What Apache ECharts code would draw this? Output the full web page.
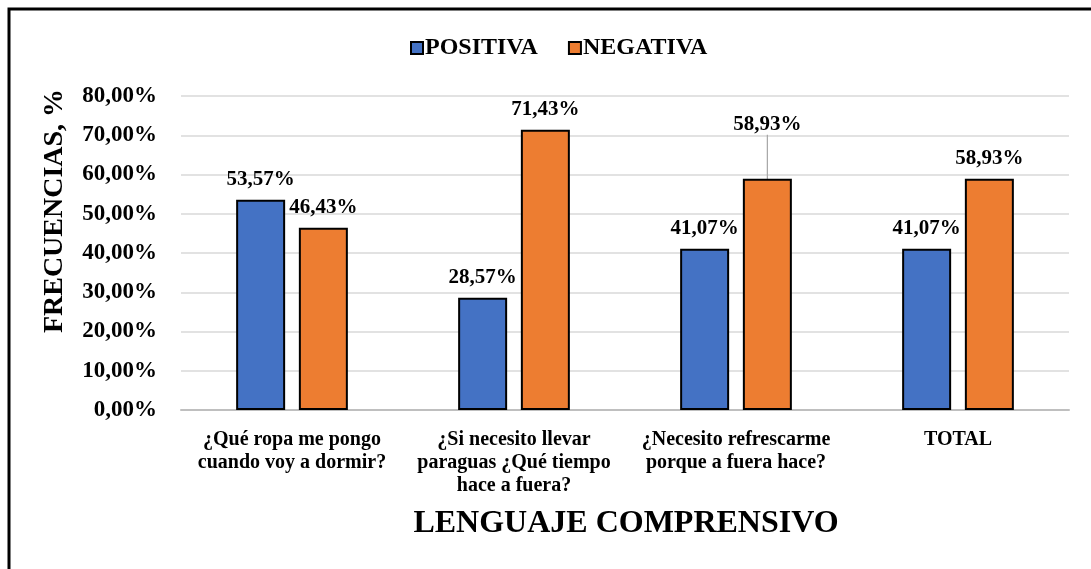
<!DOCTYPE html>
<html>
<head>
<meta charset="utf-8">
<script src="https://cdn.jsdelivr.net/npm/echarts@6/dist/echarts.min.js"></script>
<style>
  html, body { margin: 0; padding: 0; background: #fff; }
  #chart { width: 1091px; height: 569px; }
</style>
</head>
<body>
<div id="chart"></div>
<script>
// categorias del eje x
const categorias = [
  '¿Qué ropa me pongo\ncuando voy a dormir?',
  '¿Si necesito llevar\nparaguas ¿Qué tiempo\nhace a fuera?',
  '¿Necesito refrescarme\nporque a fuera hace?',
  'TOTAL'
];
// valores en %
const positiva = [53.57, 28.57, 41.07, 41.07];
const negativa = [46.43, 71.43, 58.93, 58.93];
// ticks del eje y
const ticksY = [0, 10, 20, 30, 40, 50, 60, 70, 80];

const fuente = '"Liberation Serif", "Times New Roman", serif';
const fmt = (v) => v.toFixed(2).replace('.', ',') + '%';

const chart = echarts.init(document.getElementById('chart'));

const etiqueta = {
  show: true,
  position: 'top',
  distance: 10,
  formatter: (p) => fmt(p.value),
  fontFamily: fuente,
  fontWeight: 'bold',
  fontSize: 21,
  color: '#000'
};

const options = {
  animation: false,
  textStyle: { fontFamily: fuente },
  legend: {
    top: 31,
    left: 405,
    itemWidth: 12,
    itemHeight: 12,
    itemGap: 30,
    icon: 'rect',
    textStyle: { fontFamily: fuente, fontWeight: 'bold', fontSize: 24, color: '#000', padding: [0, 0, 0, -3] },
    data: ['POSITIVA', 'NEGATIVA']
  },
  grid: { top: 96, bottom: 159, left: 181, right: 22 },
  xAxis: {
    type: 'category',
    data: categorias,
    axisTick: { show: false },
    axisLine: { lineStyle: { color: '#bfbfbf', width: 2 } },
    axisLabel: {
      margin: 18,
      interval: 0,
      fontFamily: fuente,
      fontWeight: 'bold',
      fontSize: 20,
      lineHeight: 23,
      color: '#000'
    }
  },
  yAxis: {
    type: 'value',
    min: 0,
    max: ticksY[ticksY.length - 1],
    interval: 10,
    axisLine: { show: false },
    axisTick: { show: false },
    splitLine: { lineStyle: { color: '#d9d9d9', width: 1.5 } },
    axisLabel: {
      margin: 24,
      fontFamily: fuente,
      fontWeight: 'bold',
      fontSize: 23,
      color: '#000',
      formatter: (v) => fmt(v)
    }
  },
  series: [
    {
      name: 'POSITIVA',
      type: 'bar',
      data: positiva,
      barWidth: 49,
      barGap: '28%',
      itemStyle: { color: '#4472C4', borderColor: '#000', borderWidth: 2 },
      label: etiqueta
    },
    {
      name: 'NEGATIVA',
      type: 'bar',
      data: negativa.map((v, i) => i === 2
        ? { value: v, labelLine: { show: true, lineStyle: { color: '#a6a6a6', width: 1.2 } } }
        : v),
      barWidth: 49,
      itemStyle: { color: '#ED7D31', borderColor: '#000', borderWidth: 2 },
      label: etiqueta,
      labelLayout: (p) => (p.dataIndex === 2 ? { dy: -34 } : {})
    }
  ],
  graphic: [
    {
      type: 'polyline',
      shape: { points: [[9, 569], [9, 9], [1091, 9]] },
      style: { stroke: '#000', lineWidth: 3, fill: null }
    },
    {
      type: 'text',
      x: 55,
      y: 211,
      rotation: Math.PI / 2,
      style: {
        text: 'FRECUENCIAS, %',
        fontFamily: fuente,
        fontWeight: 'bold',
        fontSize: 28,
        fill: '#000',
        align: 'center',
        verticalAlign: 'middle'
      }
    },
    {
      type: 'text',
      x: 626,
      y: 524,
      style: {
        text: 'LENGUAJE COMPRENSIVO',
        fontFamily: fuente,
        fontWeight: 'bold',
        fontSize: 32,
        fill: '#000',
        align: 'center',
        verticalAlign: 'middle'
      }
    }
  ]
};

chart.setOption(options);
</script>
</body>
</html>
